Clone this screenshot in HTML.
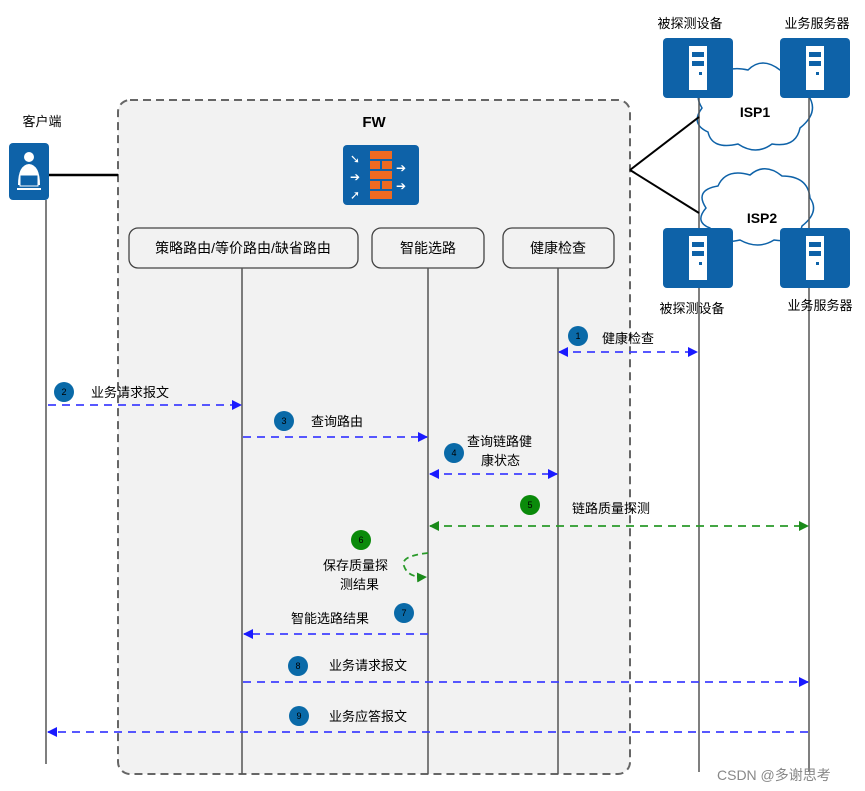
<!DOCTYPE html>
<html><head><meta charset="utf-8"><style>
html,body{margin:0;padding:0;background:#fff;}
svg{display:block;font-family:"Liberation Sans","Noto Sans CJK SC",sans-serif;}
</style></head><body>
<svg width="865" height="791" viewBox="0 0 865 791" xmlns="http://www.w3.org/2000/svg">
<defs>
<marker id="bR" markerWidth="10" markerHeight="10" refX="9" refY="5" orient="auto" markerUnits="userSpaceOnUse"><path d="M0,0 L10,5 L0,10 z" fill="#1a1aff"/></marker>
<marker id="bL" markerWidth="10" markerHeight="10" refX="1" refY="5" orient="auto" markerUnits="userSpaceOnUse"><path d="M10,0 L0,5 L10,10 z" fill="#1a1aff"/></marker>
<marker id="gR" markerWidth="10" markerHeight="10" refX="9" refY="5" orient="auto" markerUnits="userSpaceOnUse"><path d="M0,0 L10,5 L0,10 z" fill="#1a8a1a"/></marker>
<marker id="gL" markerWidth="10" markerHeight="10" refX="1" refY="5" orient="auto" markerUnits="userSpaceOnUse"><path d="M10,0 L0,5 L10,10 z" fill="#1a8a1a"/></marker>
<g id="srv"><rect x="0" y="0" width="70" height="60" rx="4" fill="#0e62a8"/><rect x="26" y="8" width="18" height="44" fill="#fff"/><rect x="29" y="14" width="12" height="5" fill="#0e62a8"/><rect x="29" y="23" width="12" height="5" fill="#0e62a8"/><rect x="36" y="34" width="3" height="3" fill="#0e62a8"/></g>
</defs>
<rect x="118" y="100" width="512" height="674" rx="12" fill="#f2f2f2" stroke="#666" stroke-width="2" stroke-dasharray="8,5"/>
<text x="374" y="127" font-size="15" font-weight="bold" text-anchor="middle">FW</text>
<rect x="343" y="145" width="76" height="60" rx="4" fill="#0e62a8"/>
<g fill="#ee6a22"><rect x="370" y="151" width="22" height="8"/><rect x="370" y="161" width="10" height="8"/><rect x="382" y="161" width="10" height="8"/><rect x="370" y="171" width="22" height="8"/><rect x="370" y="181" width="10" height="8"/><rect x="382" y="181" width="10" height="8"/><rect x="370" y="191" width="22" height="8"/></g>
<g fill="#fff" font-size="12"><text x="350" y="163">➘</text><text x="350" y="181">➔</text><text x="350" y="199">➚</text><text x="396" y="172">➔</text><text x="396" y="190">➔</text></g>
<text x="42" y="126" font-size="13" text-anchor="middle">客户端</text>
<rect x="9" y="143" width="40" height="57" rx="4" fill="#0e62a8"/>
<circle cx="29" cy="157" r="5" fill="#fff"/><path d="M18,185 Q18,165 29,164 Q40,165 40,185 z" fill="#fff"/><rect x="20" y="175" width="18" height="11" fill="#0e62a8" stroke="#fff"/><rect x="17" y="188" width="24" height="2" fill="#fff"/>
<line x1="49" y1="175" x2="118" y2="175" stroke="#000" stroke-width="2.5"/>
<rect x="129" y="228" width="229" height="40" rx="9" fill="#f2f2f2" stroke="#444" stroke-width="1.3"/>
<text x="243" y="253" font-size="14" text-anchor="middle">策略路由/等价路由/缺省路由</text>
<rect x="372" y="228" width="112" height="40" rx="9" fill="#f2f2f2" stroke="#444" stroke-width="1.3"/>
<text x="428" y="253" font-size="14" text-anchor="middle">智能选路</text>
<rect x="503" y="228" width="111" height="40" rx="9" fill="#f2f2f2" stroke="#444" stroke-width="1.3"/>
<text x="558" y="253" font-size="14" text-anchor="middle">健康检查</text>
<!-- clouds -->
<g fill="#fff" stroke="#0e62a8" stroke-width="1.5">
<path d="M702,108 Q690,88 715,84 Q722,64 748,70 Q762,56 780,70 Q808,70 808,95 Q820,112 800,128 Q796,148 772,144 Q756,156 738,144 Q712,150 708,132 Q690,124 702,108 z"/>
<path d="M706,208 Q694,190 718,186 Q726,168 750,175 Q765,162 782,176 Q808,176 810,198 Q820,212 802,226 Q798,244 774,240 Q758,250 740,240 Q714,246 710,228 Q694,222 706,208 z"/>
</g>
<g stroke="#555" stroke-width="1.5">
<line x1="46" y1="200" x2="46" y2="764"/>
<line x1="242" y1="268" x2="242" y2="774"/>
<line x1="428" y1="268" x2="428" y2="774"/>
<line x1="558" y1="268" x2="558" y2="774"/>
<line x1="699" y1="98" x2="699" y2="772"/>
<line x1="809" y1="98" x2="809" y2="772"/>
</g>
<line x1="630" y1="170" x2="699" y2="117" stroke="#000" stroke-width="2"/>
<line x1="630" y1="170" x2="699" y2="213" stroke="#000" stroke-width="2"/>
<text x="755" y="117" font-size="14" font-weight="bold" text-anchor="middle">ISP1</text>
<text x="762" y="223" font-size="14" font-weight="bold" text-anchor="middle">ISP2</text>
<use href="#srv" x="663" y="38"/><use href="#srv" x="780" y="38"/>
<use href="#srv" x="663" y="228"/><use href="#srv" x="780" y="228"/>
<text x="690" y="28" font-size="13" text-anchor="middle">被探测设备</text>
<text x="817" y="28" font-size="13" text-anchor="middle">业务服务器</text>
<text x="692" y="313" font-size="13" text-anchor="middle">被探测设备</text>
<text x="820" y="310" font-size="13" text-anchor="middle">业务服务器</text>
<g stroke-width="1.8" stroke-dasharray="8,6" fill="none">
<line x1="559" y1="352" x2="697" y2="352" stroke="#4040ff" marker-start="url(#bL)" marker-end="url(#bR)"/>
<line x1="48" y1="405" x2="241" y2="405" stroke="#4040ff" marker-end="url(#bR)"/>
<line x1="243" y1="437" x2="427" y2="437" stroke="#4040ff" marker-end="url(#bR)"/>
<line x1="430" y1="474" x2="557" y2="474" stroke="#4040ff" marker-start="url(#bL)" marker-end="url(#bR)"/>
<line x1="430" y1="526" x2="808" y2="526" stroke="#2a9a2a" marker-start="url(#gL)" marker-end="url(#gR)"/>
<line x1="428" y1="634" x2="244" y2="634" stroke="#4040ff" marker-end="url(#bR)"/>
<line x1="243" y1="682" x2="808" y2="682" stroke="#4040ff" marker-end="url(#bR)"/>
<line x1="808" y1="732" x2="48" y2="732" stroke="#4040ff" marker-end="url(#bR)"/>
<path d="M428,553 Q400,556 404,566 Q408,578 426,577" stroke="#2a9a2a" stroke-dasharray="6,4" marker-end="url(#gR)"/>
</g>
<g font-size="9" text-anchor="middle" fill="#fff">
<circle cx="578" cy="336" r="10" fill="#0a6aa8"/><text x="578" y="339" fill="#000">1</text>
<circle cx="64" cy="392" r="10" fill="#0a6aa8"/><text x="64" y="395" fill="#000">2</text>
<circle cx="284" cy="421" r="10" fill="#0a6aa8"/><text x="284" y="424" fill="#000">3</text>
<circle cx="454" cy="453" r="10" fill="#0a6aa8"/><text x="454" y="456" fill="#000">4</text>
<circle cx="530" cy="505" r="10" fill="#0a8a0a"/><text x="530" y="508" fill="#000">5</text>
<circle cx="361" cy="540" r="10" fill="#0a8a0a"/><text x="361" y="543" fill="#000">6</text>
<circle cx="404" cy="613" r="10" fill="#0a6aa8"/><text x="404" y="616" fill="#000">7</text>
<circle cx="298" cy="666" r="10" fill="#0a6aa8"/><text x="298" y="669" fill="#000">8</text>
<circle cx="299" cy="716" r="10" fill="#0a6aa8"/><text x="299" y="719" fill="#000">9</text>
</g>
<g font-size="13">
<text x="602" y="343">健康检查</text>
<text x="91" y="397">业务请求报文</text>
<text x="311" y="426">查询路由</text>
<text x="467" y="446">查询链路健</text>
<text x="481" y="465">康状态</text>
<text x="572" y="513">链路质量探测</text>
<text x="323" y="570">保存质量探</text>
<text x="340" y="589">测结果</text>
<text x="291" y="623">智能选路结果</text>
<text x="329" y="670">业务请求报文</text>
<text x="329" y="721">业务应答报文</text>
</g>
<text x="717" y="780" font-size="14" fill="#888">CSDN @多谢思考</text>
</svg>
</body></html>
